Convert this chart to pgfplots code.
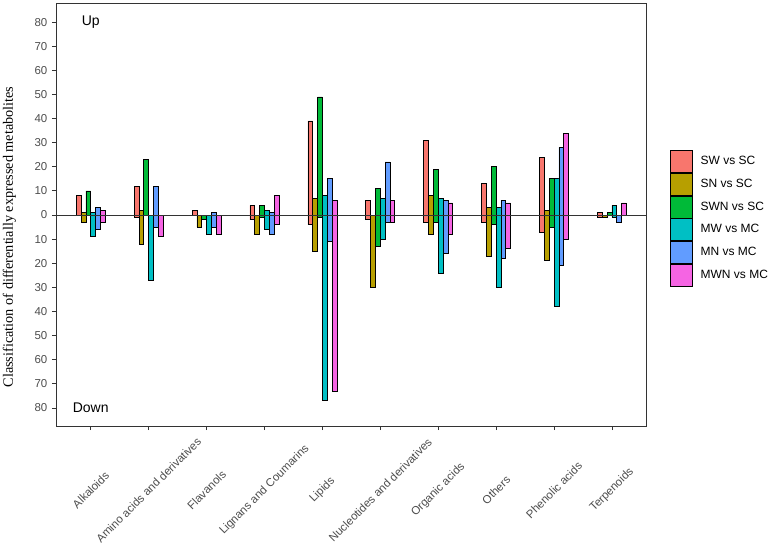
\documentclass[border=0pt]{standalone}
\usepackage{pgfplots}
\pgfplotsset{compat=1.18}
\usepackage{pgfplotstable}
\usepackage{fontspec}
\setmainfont{Liberation Sans}
\newfontfamily\serifaxis{Liberation Serif}

\definecolor{cSW}{HTML}{F8766D}
\definecolor{cSN}{HTML}{B79F00}
\definecolor{cSWN}{HTML}{00BA38}
\definecolor{cMW}{HTML}{00BFC4}
\definecolor{cMN}{HTML}{619CFF}
\definecolor{cMWN}{HTML}{F564E3}
\definecolor{axgray}{HTML}{333333}
\definecolor{tickgray}{HTML}{4D4D4D}

% up = number of up-regulated metabolites, down = down-regulated (negative)
\pgfplotstableread{
x up down
1 8 0
2 12 -1
3 2 0
4 4 -2
5 39 -4
6 6 -2
7 31 -3
8 13 -3
9 24 -7
10 1 -1
}\tSW
\pgfplotstableread{
x up down
1 1 -3
2 2 -12
3 0 -5
4 0 -8
5 7 -15
6 0 -30
7 8 -8
8 3 -17
9 2 -19
10 0 -1
}\tSN
\pgfplotstableread{
x up down
1 10 0
2 23 0
3 0 -2
4 4 -1
5 49 -1
6 11 -13
7 19 -3
8 20 -4
9 15 -5
10 1 0
}\tSWN
\pgfplotstableread{
x up down
1 1 -9
2 0 -27
3 0 -8
4 2 -6
5 8 -77
6 7 -10
7 7 -24
8 3 -30
9 15 -38
10 4 -1
}\tMW
\pgfplotstableread{
x up down
1 3 -6
2 12 -5
3 1 -5
4 1 -8
5 15 -11
6 22 -3
7 6 -16
8 6 -18
9 28 -21
10 0 -3
}\tMN
\pgfplotstableread{
x up down
1 2 -3
2 0 -9
3 0 -8
4 8 -4
5 6 -73
6 6 -3
7 5 -8
8 5 -14
9 34 -10
10 5 0
}\tMWN

\pgfplotsset{
  dbar/.style={ybar, forget plot, draw=black, line width=0.5pt,
    bar width=0.0833, fill=#1},
}

\begin{document}
\begin{tikzpicture}
\begin{axis}[
  name=ax,
  scale only axis, width=443pt, height=316.5pt,
  xmin=0.4, xmax=10.6, ymin=-87.5, ymax=87.5,
  xtick={1,...,10},
  xticklabels={Alkaloids, Amino acids and derivatives, Flavanols,
    Lignans and Coumarins, Lipids, Nucleotides and derivatives,
    Organic acids, Others, Phenolic acids, Terpenoids},
  ytick={-80,-70,...,80},
  yticklabels={80,70,60,50,40,30,20,10,0,10,20,30,40,50,60,70,80},
  tick pos=left, tick align=outside, major tick length=3pt,
  axis line style={axgray, line width=0.75pt},
  tick style={axgray, line width=0.6pt},
  ticklabel style={font=\fontsize{8.6}{10}\selectfont, text=tickgray},
  xticklabel style={yshift=-45pt, rotate=45, anchor=center},
  every axis y label/.style={at={(rel axis cs:0,0.448)}, xshift=-32.25pt,
    rotate=90, anchor=base},
  ylabel={Classification of differentially expressed metabolites},
  ylabel style={font=\serifaxis\fontsize{10.7}{12}\selectfont},
  legend style={at={(rel axis cs:1,0.492)}, anchor=west, xshift=17.25pt,
    draw=none, fill=none, inner sep=0pt, row sep=0pt,
    font=\fontsize{9}{10}\selectfont, nodes={inner sep=0pt},
    cells={anchor=west},
    /tikz/every odd column/.append style={column sep=6pt}},
  legend image code/.code={\draw[#1] (0pt,-8.25pt) rectangle (16.5pt,8.25pt);},
]
\addlegendimage{fill=cSW, draw=black, line width=0.5pt}
\addlegendentry{SW vs SC}
\addlegendimage{fill=cSN, draw=black, line width=0.5pt}
\addlegendentry{SN vs SC}
\addlegendimage{fill=cSWN, draw=black, line width=0.5pt}
\addlegendentry{SWN vs SC}
\addlegendimage{fill=cMW, draw=black, line width=0.5pt}
\addlegendentry{MW vs MC}
\addlegendimage{fill=cMN, draw=black, line width=0.5pt}
\addlegendentry{MN vs MC}
\addlegendimage{fill=cMWN, draw=black, line width=0.5pt}
\addlegendentry{MWN vs MC}

\addplot[dbar=cSW, bar shift=-0.2083] table[x=x, y=up] {\tSW};
\addplot[dbar=cSW, bar shift=-0.2083] table[x=x, y=down] {\tSW};
\addplot[dbar=cSN, bar shift=-0.125] table[x=x, y=up] {\tSN};
\addplot[dbar=cSN, bar shift=-0.125] table[x=x, y=down] {\tSN};
\addplot[dbar=cSWN, bar shift=-0.04167] table[x=x, y=up] {\tSWN};
\addplot[dbar=cSWN, bar shift=-0.04167] table[x=x, y=down] {\tSWN};
\addplot[dbar=cMW, bar shift=0.04167] table[x=x, y=up] {\tMW};
\addplot[dbar=cMW, bar shift=0.04167] table[x=x, y=down] {\tMW};
\addplot[dbar=cMN, bar shift=0.125] table[x=x, y=up] {\tMN};
\addplot[dbar=cMN, bar shift=0.125] table[x=x, y=down] {\tMN};
\addplot[dbar=cMWN, bar shift=0.2083] table[x=x, y=up] {\tMWN};
\addplot[dbar=cMWN, bar shift=0.2083] table[x=x, y=down] {\tMWN};

% zero reference line
\draw[axgray, line width=0.6pt] (axis cs:0.4,0) -- (axis cs:10.6,0);

\node[font=\fontsize{10.5}{12}\selectfont] at (axis cs:1,80) {Up};
\node[font=\fontsize{10.5}{12}\selectfont] at (axis cs:1,-80) {Down};
\end{axis}
\pgfresetboundingbox
\path[use as bounding box] ([xshift=-42pt,yshift=-92.25pt]ax.south west)
  rectangle ([xshift=92.5pt,yshift=3pt]ax.north east);
\end{tikzpicture}
\end{document}
